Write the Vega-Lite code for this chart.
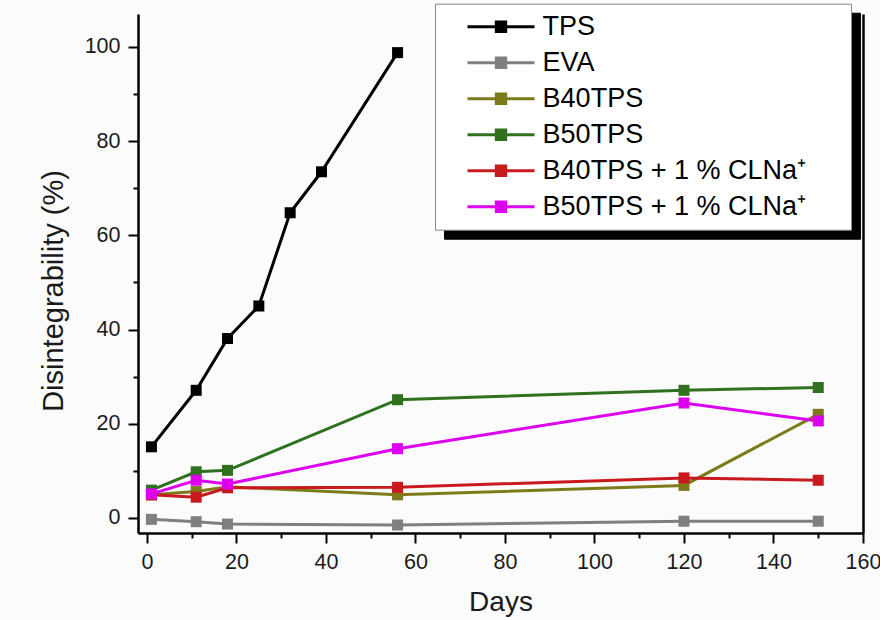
{
  "$schema": "https://vega.github.io/schema/vega-lite/v6.json",
  "width": 725,
  "height": 519,
  "autosize": {"type": "none"},
  "padding": {"left": 138, "top": 14, "right": 17, "bottom": 87},
  "background": "#fbfbfb",
  "config": {
    "view": {"stroke": null},
    "font": "Liberation Sans",
    "axis": {
      "grid": false,
      "domainColor": "black",
      "domainWidth": 2.5,
      "tickColor": "black",
      "tickWidth": 2,
      "labelFont": "Liberation Sans",
      "labelFontSize": 21.5,
      "labelColor": "#1a1a1a",
      "labelFlush": false,
      "titleFont": "Liberation Sans",
      "titleFontWeight": "normal",
      "titleColor": "#1a1a1a"
    }
  },
  "data": {
    "values": [
      {"series": "TPS", "day": 1, "value": 15.1},
      {"series": "TPS", "day": 11, "value": 27.1},
      {"series": "TPS", "day": 18, "value": 38.1},
      {"series": "TPS", "day": 25, "value": 45.0},
      {"series": "TPS", "day": 32, "value": 64.8},
      {"series": "TPS", "day": 39, "value": 73.5},
      {"series": "TPS", "day": 56, "value": 98.8},
      {"series": "EVA", "day": 1, "value": -0.3},
      {"series": "EVA", "day": 11, "value": -0.8},
      {"series": "EVA", "day": 18, "value": -1.3},
      {"series": "EVA", "day": 56, "value": -1.5},
      {"series": "EVA", "day": 120, "value": -0.7},
      {"series": "EVA", "day": 150, "value": -0.7},
      {"series": "B40TPS", "day": 1, "value": 4.9},
      {"series": "B40TPS", "day": 11, "value": 5.6},
      {"series": "B40TPS", "day": 18, "value": 6.6},
      {"series": "B40TPS", "day": 56, "value": 4.9},
      {"series": "B40TPS", "day": 120, "value": 6.9},
      {"series": "B40TPS", "day": 150, "value": 22.0},
      {"series": "B50TPS", "day": 1, "value": 5.9},
      {"series": "B50TPS", "day": 11, "value": 9.8},
      {"series": "B50TPS", "day": 18, "value": 10.1},
      {"series": "B50TPS", "day": 56, "value": 25.1},
      {"series": "B50TPS", "day": 120, "value": 27.1},
      {"series": "B50TPS", "day": 150, "value": 27.7},
      {"series": "B40TPS + 1 % CLNa⁺", "day": 1, "value": 4.9},
      {"series": "B40TPS + 1 % CLNa⁺", "day": 11, "value": 4.4},
      {"series": "B40TPS + 1 % CLNa⁺", "day": 18, "value": 6.4},
      {"series": "B40TPS + 1 % CLNa⁺", "day": 56, "value": 6.5},
      {"series": "B40TPS + 1 % CLNa⁺", "day": 120, "value": 8.5},
      {"series": "B40TPS + 1 % CLNa⁺", "day": 150, "value": 8.0},
      {"series": "B50TPS + 1 % CLNa⁺", "day": 1, "value": 5.1},
      {"series": "B50TPS + 1 % CLNa⁺", "day": 11, "value": 8.0},
      {"series": "B50TPS + 1 % CLNa⁺", "day": 18, "value": 7.2},
      {"series": "B50TPS + 1 % CLNa⁺", "day": 56, "value": 14.7},
      {"series": "B50TPS + 1 % CLNa⁺", "day": 120, "value": 24.4},
      {"series": "B50TPS + 1 % CLNa⁺", "day": 150, "value": 20.6}
    ]
  },
  "layer": [
    {
      "mark": {"type": "line", "strokeWidth": 3},
      "encoding": {
        "x": {
          "field": "day", "type": "quantitative",
          "scale": {"domain": [-2, 160], "nice": false, "zero": false},
          "axis": {
            "title": "Days",
            "titleFontSize": 28,
            "values": [0, 10, 20, 30, 40, 50, 60, 70, 80, 90, 100, 110, 120, 130, 140, 150, 160],
            "labelExpr": "datum.value % 20 === 0 ? datum.label : ''",
            "tickSize": {"condition": {"test": "datum.value % 20 === 0", "value": 10}, "value": 5},
            "labelPadding": 8,
            "titlePadding": 16
          }
        },
        "y": {
          "field": "value", "type": "quantitative",
          "scale": {"domain": [-3.2, 107], "nice": false, "zero": false},
          "axis": {
            "title": "Disintegrability (%)",
            "titleFontSize": 29,
            "titleY": 276.5,
            "values": [0, 10, 20, 30, 40, 50, 60, 70, 80, 90, 100],
            "labelExpr": "datum.value % 20 === 0 ? datum.label : ''",
            "tickSize": {"condition": {"test": "datum.value % 20 === 0", "value": 10}, "value": 5},
            "labelPadding": 8,
            "titlePadding": 16
          }
        },
        "color": {
          "field": "series", "type": "nominal",
          "scale": {
            "domain": ["TPS", "EVA", "B40TPS", "B50TPS", "B40TPS + 1 % CLNa⁺", "B50TPS + 1 % CLNa⁺"],
            "range": ["#000000", "#7f7f7f", "#7d7a1a", "#2f711f", "#c81a1e", "#dd00ee"]
          },
          "legend": {
            "orient": "none",
            "legendX": 297,
            "legendY": -10.3,
            "title": " ",
            "titleOrient": "right",
            "titleFontSize": 27,
            "titlePadding": 37,
            "padding": 8,
            "fillColor": "white",
            "strokeColor": "#8a8a8a",
            "symbolType": "M-1,0H1M-0.14,-0.14H0.14V0.14H-0.14Z",
            "symbolSize": 4489,
            "symbolStrokeWidth": 3,
            "clipHeight": 30,
            "rowPadding": 6,
            "symbolOffset": 23,
            "labelOffset": 6.6,
            "labelFont": "Liberation Sans",
            "labelFontSize": 27,
            "labelColor": "black",
            "labelLimit": 0,
            "zindex": 2
          }
        }
      }
    },
    {
      "mark": {"type": "point", "shape": "square", "filled": true, "size": 121},
      "encoding": {
        "x": {"field": "day", "type": "quantitative"},
        "y": {
          "field": "value", "type": "quantitative",
          "axis": {"orient": "right", "title": null, "labels": false, "ticks": false, "domain": true}
        },
        "color": {"field": "series", "type": "nominal", "legend": null},
        "opacity": {
          "field": "series", "type": "nominal",
          "scale": {"range": [1, 1]},
          "legend": {
            "orient": "none",
            "legendX": 306,
            "legendY": -1.3,
            "title": " ",
            "titleOrient": "right",
            "titleFontSize": 27,
            "titlePadding": 37,
            "padding": 8,
            "fillColor": "black",
            "strokeColor": "black",
            "symbolType": "M-1,0H1M-0.14,-0.14H0.14V0.14H-0.14Z",
            "symbolSize": 4489,
            "symbolStrokeWidth": 3,
            "symbolFillColor": "black",
            "symbolStrokeColor": "black",
            "clipHeight": 30,
            "rowPadding": 6,
            "symbolOffset": 23,
            "labelOffset": 6.6,
            "labelFont": "Liberation Sans",
            "labelFontSize": 27,
            "labelColor": "black",
            "labelLimit": 0,
            "zindex": 1
          }
        }
      }
    }
  ],
  "resolve": {"axis": {"y": "independent"}}
}
